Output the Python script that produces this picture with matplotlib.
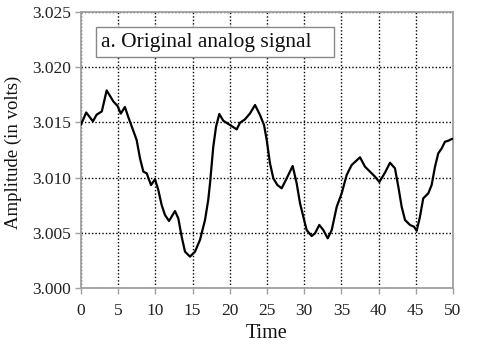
import matplotlib
matplotlib.use("Agg")
import matplotlib.pyplot as plt
from matplotlib.patches import Rectangle
from matplotlib.ticker import MultipleLocator, FormatStrFormatter

time = [0.0, 0.7, 1.6, 2.1, 2.8, 3.45, 4.35, 4.9, 5.35, 5.9, 6.4, 7.0, 7.48,
        7.93, 8.38, 8.83, 9.41, 9.95, 10.39, 10.84, 11.29, 11.83, 12.63, 13.08,
        13.53, 13.98, 14.65, 15.32, 15.99, 16.67, 17.1, 17.34, 17.78, 18.15,
        18.59, 19.13, 20.25, 20.93, 21.37, 22.04, 22.72, 23.39, 24.06, 24.6,
        24.96, 25.4, 25.85, 26.39, 26.97, 27.65, 28.45, 28.99, 29.44, 29.88,
        30.33, 31.0, 31.45, 32.03, 32.57, 33.16, 33.7, 34.37, 35.04, 35.71,
        36.38, 37.5, 38.17, 38.84, 39.5, 40.1, 40.9, 41.53, 42.2, 42.65, 43.1,
        43.55, 44.22, 44.76, 45.12, 45.56, 46.0, 46.68, 47.13, 47.58, 48.02,
        48.48, 48.92, 49.37, 49.83, 50.0]
amplitude = [3.0148, 3.0159, 3.0151, 3.0157, 3.0160, 3.0179, 3.0169, 3.0165,
             3.0158, 3.0164, 3.0154, 3.0143, 3.01341,
             3.01175, 3.01054, 3.01039, 3.00933, 3.00985, 3.00888, 3.00752,
             3.00661, 3.00607, 3.00697, 3.00631, 3.00465, 3.00329, 3.00284,
             3.00329, 3.00435, 3.00616, 3.00797, 3.00948, 3.01280, 3.01461,
             3.01576, 3.01515, 3.01467, 3.01437, 3.01497, 3.01528, 3.01582,
             3.01658, 3.01567, 3.01476, 3.01341, 3.01130, 3.00994, 3.00933,
             3.00903, 3.00994, 3.01105, 3.00948, 3.00767, 3.00646, 3.00525,
             3.00471, 3.00495, 3.00571, 3.00525, 3.00450, 3.00525, 3.00736,
             3.00858, 3.01024, 3.01114, 3.01184, 3.01099, 3.01054, 3.01010,
             3.00960, 3.01050, 3.01135, 3.01084, 3.00918, 3.00736, 3.00616,
             3.00571, 3.00555, 3.00519, 3.00646, 3.00812, 3.00858, 3.00933,
             3.01099, 3.01220, 3.01265, 3.01325, 3.01334, 3.01350, 3.01350]

title_text = "a. Original analog signal"
x_label = "Time"
y_label = "Amplitude (in volts)"

plt.rcParams['font.family'] = ['Liberation Serif', 'DejaVu Serif']

fig = plt.figure(figsize=(5.0, 3.44), dpi=100)
ax = fig.add_axes([0.162, 0.1628, 0.744, 0.8022])

ax.plot(time, amplitude, color='black', linewidth=1.6, zorder=3,
        solid_joinstyle='round', solid_capstyle='round')

ax.set_xlim(0, 50)
ax.set_ylim(3.000, 3.025)
ax.xaxis.set_major_locator(MultipleLocator(5))
ax.yaxis.set_major_locator(MultipleLocator(0.005))
ax.yaxis.set_major_formatter(FormatStrFormatter('%.3f'))

ax.grid(True, color='black', linestyle=(0, (1, 1.5)), linewidth=1.0, zorder=1)

for s in ax.spines.values():
    s.set_color('#a0a0a0')
    s.set_linewidth(1.3)
ax.tick_params(direction='out', length=4.5, width=1.0, color='#a0a0a0',
               labelsize=12.5, labelcolor='#222222')
ax.tick_params(axis='x', pad=6)
ax.tick_params(axis='y', pad=3)

ax.set_xlabel(x_label, fontsize=14.5, labelpad=4, color='#111111')
ax.set_ylabel(y_label, fontsize=13.5, color='#111111')
ax.yaxis.set_label_coords(-0.158, 0.49)

box = Rectangle((0.040, 0.837), 0.640, 0.109, transform=ax.transAxes,
                facecolor='white', edgecolor='#888888', linewidth=1.0, zorder=5)
ax.add_patch(box)
ax.text(0.054, 0.891, title_text, transform=ax.transAxes, fontsize=15.5,
        va='center', ha='left', color='#111111', zorder=6)

fig.savefig("out.png", dpi=100)
